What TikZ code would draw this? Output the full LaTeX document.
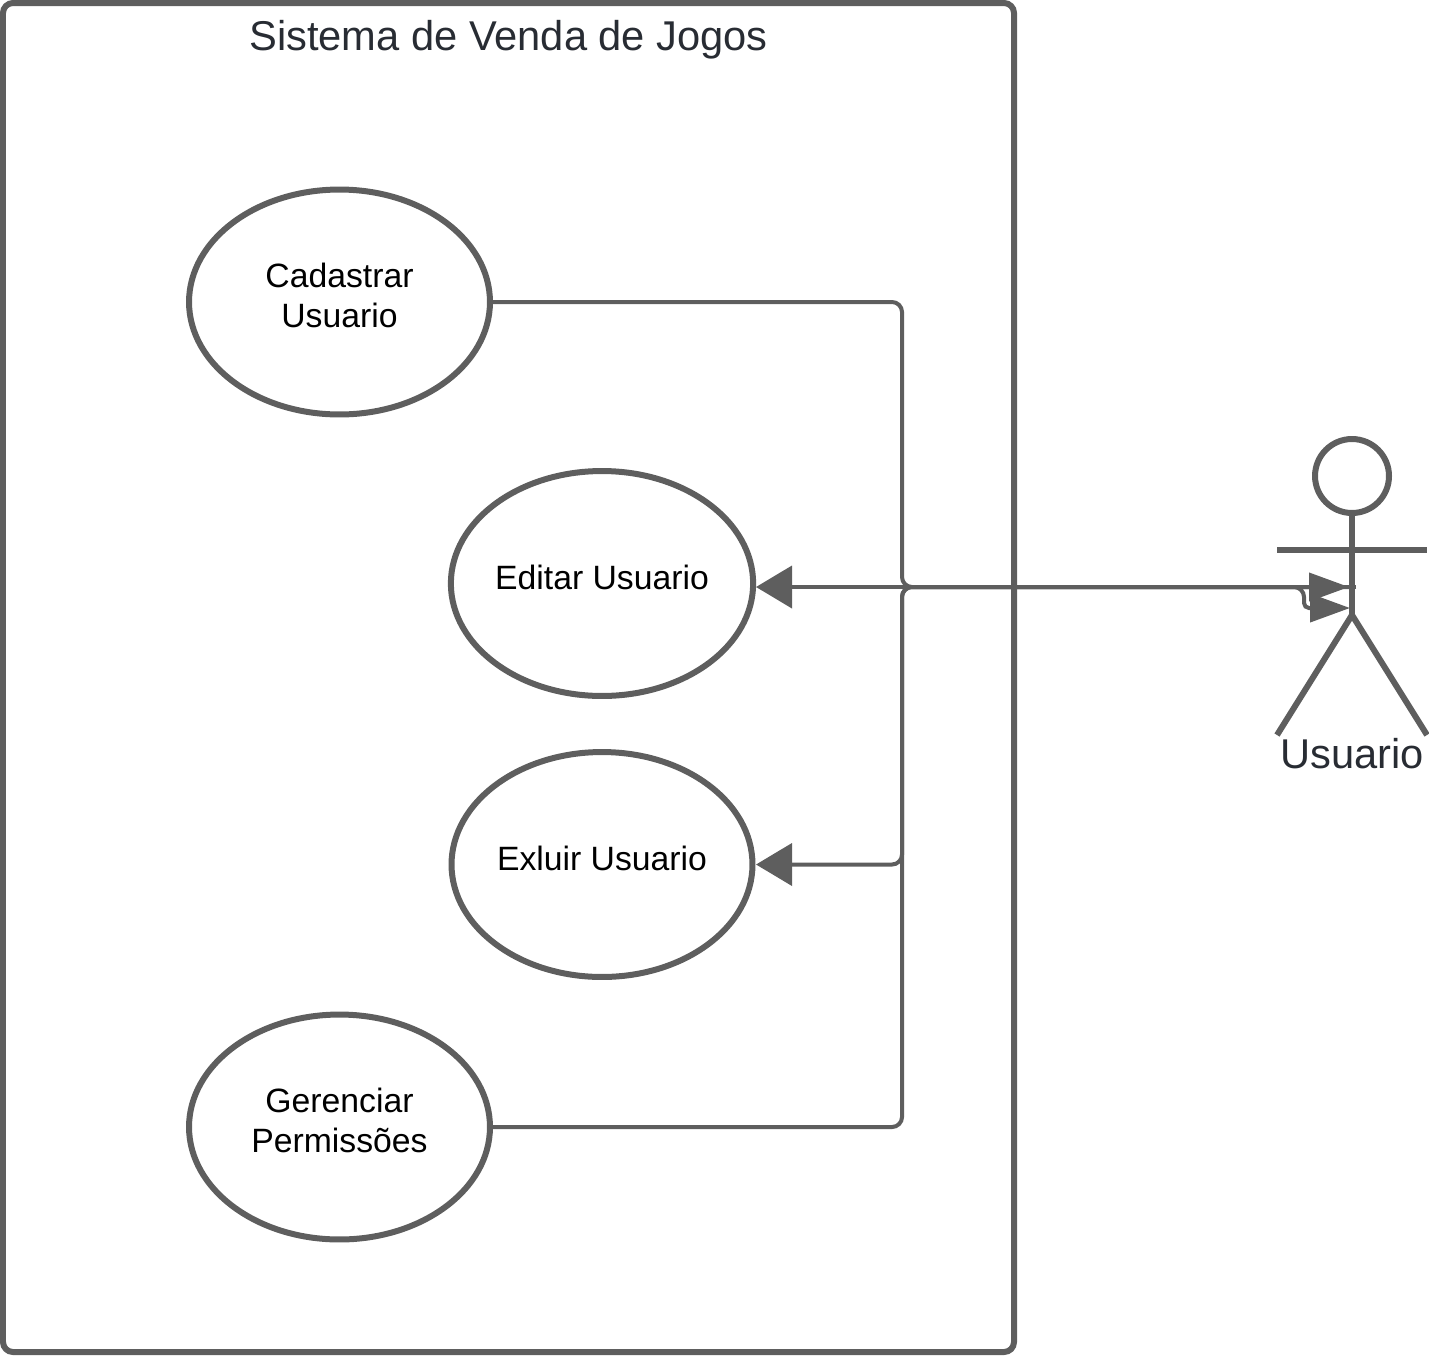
\documentclass[tikz,border=0pt]{standalone}
\usepackage{fontspec}
\setmainfont{Liberation Sans}
\usetikzlibrary{shapes.geometric,arrows.meta}
\definecolor{linha}{HTML}{5E5E5E}
\definecolor{titulo}{HTML}{282C33}
\begin{document}
\begin{tikzpicture}[x=0.02cm,y=-0.02cm]
	\tikzstyle{UseCase} = [ellipse, minimum width=6.02cm, minimum height=4.5cm, inner sep=0pt, align=center, text depth=0.26cm, font=\fontsize{19.2}{22.8}\selectfont, draw=linha, line width=0.12cm]
	\tikzstyle{Titulo} = [inner sep=0pt, text=titulo, font=\fontsize{23.7}{28}\selectfont]
	\tikzstyle{corpo} = [draw=linha, line width=0.12cm]
	\tikzstyle{conector} = [draw=linha, line width=0.08cm, rounded corners=0.2cm]
	\tikzstyle{arrow} = [-{Triangle[length=0.72cm,width=0.84cm]}]
	\tikzstyle{arrowAtor} = [-{Triangle[length=0.8cm,width=0.56cm]}]
	\useasboundingbox (0,0) rectangle (1429,1356);
	
	\draw [corpo, rounded corners=0.2cm] (3,3) rectangle (1014,1352);
	\node (sistema) [Titulo] at (508.5,40) {Sistema de Venda de Jogos};
	
	\node (cadastrar) [UseCase] at (339.5,302) {Cadastrar\\Usuario};
	\node (editar) [UseCase] at (602,583.5) {Editar Usuario};
	\node (exluir) [UseCase] at (602,864.5) {Exluir Usuario};
	\node (gerenciar) [UseCase] at (339.5,1127) {Gerenciar\\Permissões};
	
	% ator
	\node (cabeca) [circle, corpo, minimum size=1.48cm, inner sep=0pt] at (1352,476) {};
	\coordinate (quadril) at (1352,615);
	\coordinate (bracoE) at (1277,550);
	\coordinate (bracoD) at (1427,550);
	\coordinate (peE) at (1277,735);
	\coordinate (peD) at (1427,735);
	\draw [corpo] (cabeca.south) -- (quadril);
	\draw [corpo] (bracoE) -- (bracoD);
	\draw [corpo] (peE) -- (quadril) -- (peD);
	\node (usuario) [Titulo] at (1352,754) {Usuario};
	
	\coordinate (tronco) at (902,587);
	\coordinate (desvio) at (1304,587);
	\coordinate (maoA) at (1349,587);
	\coordinate (maoB) at (1350,608);
	\coordinate (ombro) at (1356,587);
	\coordinate (pontaEditar) at (756,587);
	\coordinate (pontaExluir) at (756,864.5);
	
	\draw [conector, arrowAtor] (cadastrar.east) -| (tronco) -- (maoA);
	\draw [conector, arrowAtor] (gerenciar.east) -| (tronco) -- (desvio) [rounded corners=0.1cm] |- (maoB);
	\draw [conector, arrow] (maoA) -- (tronco) |- (pontaExluir);
	\draw [conector, arrow] (ombro) -- (pontaEditar);
\end{tikzpicture}
\end{document}
